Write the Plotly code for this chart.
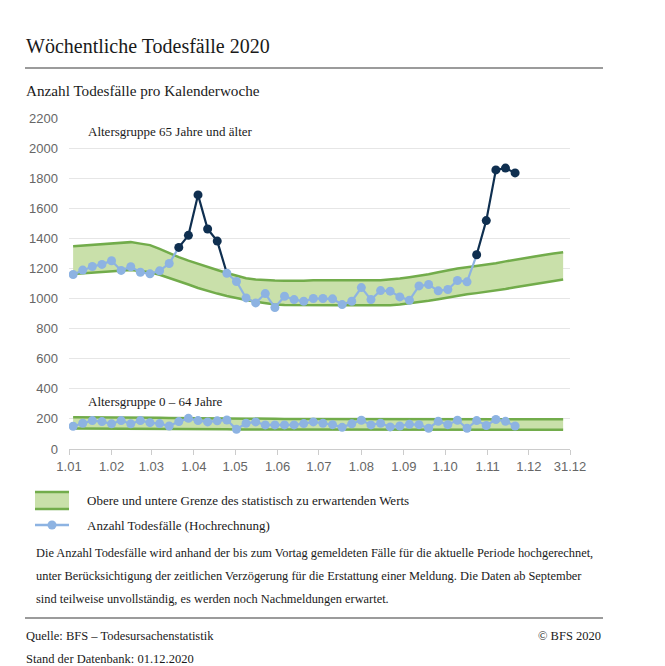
import plotly.graph_objects as go
import datetime as dt

# ---------------- data ----------------
week_numbers = list(range(1, 53))
first_week_date = "2020-01-04"

deaths_65plus = [1160, 1189, 1213, 1227, 1251, 1187, 1211, 1175, 1164, 1184,
                 1233, 1340, 1420, 1689, 1462, 1382, 1168, 1113, 1004, 971,
                 1033, 940, 1015, 993, 982, 1000, 1000, 998, 960, 982,
                 1073, 993, 1053, 1049, 1011, 989, 1084, 1093, 1051, 1060,
                 1120, 1111, 1291, 1518, 1855, 1867, 1835]
above_band_weeks_65plus = [12, 13, 14, 15, 16, 43, 44, 45, 46, 47]

upper_65plus = [1347, 1352, 1357, 1362, 1367, 1372, 1375, 1365, 1355, 1330,
                1300, 1275, 1252, 1230, 1210, 1190, 1170, 1150, 1135, 1127,
                1122, 1120, 1118, 1117, 1119, 1121, 1122, 1122, 1122, 1122,
                1122, 1122, 1122, 1125, 1133, 1142, 1151, 1162, 1175, 1188,
                1200, 1208, 1216, 1223, 1235, 1247, 1259, 1270, 1280, 1290,
                1299, 1307]
lower_65plus = [1163, 1168, 1173, 1178, 1183, 1188, 1190, 1183, 1175, 1158,
                1138, 1117, 1093, 1070, 1050, 1033, 1017, 1002, 990, 978,
                967, 960, 957, 956, 956, 956, 956, 956, 956, 956,
                956, 956, 955, 955, 960, 967, 975, 985, 996, 1008,
                1019, 1028, 1036, 1044, 1054, 1064, 1075, 1085, 1095, 1105,
                1116, 1127]

deaths_0_64 = [151, 171, 189, 182, 167, 189, 167, 189, 175, 169,
               153, 182, 204, 189, 180, 187, 193, 131, 171, 180,
               160, 160, 160, 160, 169, 180, 171, 162, 144, 167,
               191, 160, 171, 147, 153, 164, 162, 138, 184, 162,
               191, 138, 189, 156, 196, 184, 153]
upper_0_64 = [211, 211, 210, 210, 209, 209, 208, 208, 207, 207,
              206, 206, 205, 205, 204, 204, 203, 203, 202, 202,
              201, 201, 200, 200, 200, 199, 199, 199, 198, 198,
              198, 197, 197, 197, 197, 196, 196, 196, 196, 196,
              196, 196, 196, 196, 196, 196, 197, 197, 197, 197,
              197, 197]
lower_0_64 = [136, 136, 135, 135, 135, 134, 134, 134, 133, 133,
              133, 132, 132, 132, 131, 131, 131, 130, 130, 130,
              130, 129, 129, 129, 129, 128, 128, 128, 128, 128,
              128, 127, 127, 127, 127, 127, 127, 127, 127, 127,
              127, 127, 127, 127, 128, 128, 128, 128, 128, 128,
              128, 128]

x_tick_dates = ["2020-01-01", "2020-02-01", "2020-03-01", "2020-04-01",
                "2020-05-01", "2020-06-01", "2020-07-01", "2020-08-01",
                "2020-09-01", "2020-10-01", "2020-11-01", "2020-12-01",
                "2020-12-31"]
x_tick_labels = ["1.01", "1.02", "1.03", "1.04", "1.05", "1.06", "1.07",
                 "1.08", "1.09", "1.10", "1.11", "1.12", "31.12"]
y_tick_values = list(range(0, 2201, 200))

title_text = "Wöchentliche Todesfälle 2020"
subtitle_text = "Anzahl Todesfälle pro Kalenderwoche"
group_labels = ["Altersgruppe 65 Jahre und älter", "Altersgruppe 0 – 64 Jahre"]
legend_labels = ["Obere und untere Grenze des statistisch zu erwartenden Werts",
                 "Anzahl Todesfälle (Hochrechnung)"]
note_lines = [
    "Die Anzahl Todesfälle wird anhand der bis zum Vortag gemeldeten Fälle für die aktuelle Periode hochgerechnet,",
    "unter Berücksichtigung der zeitlichen Verzögerung für die Erstattung einer Meldung. Die Daten ab September",
    "sind teilweise unvollständig, es werden noch Nachmeldungen erwartet.",
]
source_text = "Quelle: BFS – Todesursachenstatistik"
copyright_text = "© BFS 2020"
stand_text = "Stand der Datenbank: 01.12.2020"

# ---------------- styling ----------------
OFF = 8                      # page body margin of the browser
W, H = 665 - OFF, 666 - OFF
L, R, T, B = 69, 570, 118, 449   # plot area in window pixels
PW, PH = R - L, B - T
SERIF = "Liberation Serif, Times New Roman, serif"
SANS = "Liberation Sans, Arial, sans-serif"
GREEN_LINE = "#72ac4b"
GREEN_FILL = "#c9e0aa"
LIGHT_BLUE = "#8db3e2"
DARK_BLUE = "#0f2f50"
TEXT = "#1a1a1a"


def px(x):
    return (x - L) / PW


def py(y):
    return (B - y) / PH


start = dt.date.fromisoformat(first_week_date)
dates = [(start + dt.timedelta(days=7 * (w - 1))).isoformat() for w in week_numbers]

fig = go.Figure()

# bands
for lower, upper in [(lower_65plus, upper_65plus), (lower_0_64, upper_0_64)]:
    fig.add_trace(go.Scatter(x=dates[:len(lower)], y=lower, mode="lines",
                             line=dict(color=GREEN_LINE, width=2.5),
                             hoverinfo="skip", showlegend=False))
    fig.add_trace(go.Scatter(x=dates[:len(upper)], y=upper, mode="lines",
                             line=dict(color=GREEN_LINE, width=2.5),
                             fill="tonexty", fillcolor=GREEN_FILL,
                             hoverinfo="skip", showlegend=False))


def split_series(values, above_weeks):
    n = len(values)
    exc = [(i + 1) in above_weeks for i in range(n)]
    light_line, dark_line, light_pts, dark_pts = [], [], [], []
    for i, v in enumerate(values):
        prev_exc = i > 0 and exc[i - 1]
        light_line.append(v if (not exc[i] or (i > 0 and not exc[i - 1])) else None)
        dark_line.append(v if (exc[i] or prev_exc) else None)
        light_pts.append(None if exc[i] else v)
        dark_pts.append(v if exc[i] else None)
    return light_line, dark_line, light_pts, dark_pts


for values, above in [(deaths_0_64, []), (deaths_65plus, above_band_weeks_65plus)]:
    ll, dl, lp, dp = split_series(values, above)
    xs = dates[:len(values)]
    fig.add_trace(go.Scatter(x=xs, y=ll, mode="lines", connectgaps=False,
                             line=dict(color=LIGHT_BLUE, width=2.2), showlegend=False))
    if any(v is not None for v in dp):
        fig.add_trace(go.Scatter(x=xs, y=dl, mode="lines", connectgaps=False,
                                 line=dict(color=DARK_BLUE, width=2.2), showlegend=False))
    fig.add_trace(go.Scatter(x=xs, y=lp, mode="markers",
                             marker=dict(color=LIGHT_BLUE, size=9), showlegend=False))
    if any(v is not None for v in dp):
        fig.add_trace(go.Scatter(x=xs, y=dp, mode="markers",
                                 marker=dict(color=DARK_BLUE, size=9), showlegend=False))

shapes = [
    dict(type="line", xref="paper", yref="paper", x0=px(25), x1=px(603),
         y0=py(68), y1=py(68), line=dict(color="#7a7a7a", width=1.5)),
    dict(type="line", xref="paper", yref="paper", x0=px(25), x1=px(603),
         y0=py(618), y1=py(618), line=dict(color="#7a7a7a", width=1.5)),
    # legend band swatch
    dict(type="rect", xref="paper", yref="paper", x0=px(35), x1=px(69),
         y0=py(509), y1=py(492), fillcolor=GREEN_FILL, line=dict(width=0)),
    dict(type="line", xref="paper", yref="paper", x0=px(35), x1=px(69),
         y0=py(492), y1=py(492), line=dict(color=GREEN_LINE, width=2.5)),
    dict(type="line", xref="paper", yref="paper", x0=px(35), x1=px(69),
         y0=py(509), y1=py(509), line=dict(color=GREEN_LINE, width=2.5)),
    # legend line + marker
    dict(type="line", xref="paper", yref="paper", x0=px(35), x1=px(69),
         y0=py(525), y1=py(525), line=dict(color=LIGHT_BLUE, width=2.5)),
    dict(type="circle", xref="paper", yref="paper", x0=px(47.5), x1=px(56.5),
         y0=py(529.5), y1=py(520.5), fillcolor=LIGHT_BLUE, line=dict(width=0)),
]


def note(text, x, y, size, anchor="left", color=TEXT, font=SERIF):
    return dict(text=text, xref="paper", yref="paper", x=px(x), y=py(y),
                xanchor=anchor, yanchor="middle", showarrow=False,
                font=dict(family=font, size=size, color=color))


annotations = [
    note(title_text, 24, 46, 20),
    note(subtitle_text, 24, 91, 15.2),
    note(group_labels[0], 86, 131, 13),
    note(group_labels[1], 86, 401, 13),
    note(legend_labels[0], 85, 500, 13),
    note(legend_labels[1], 85, 525, 13),
    note(note_lines[0], 34, 553, 12.4),
    note(note_lines[1], 34, 576, 12.4),
    note(note_lines[2], 34, 599, 12.4),
    note(source_text, 24, 636, 12.5),
    note(copyright_text, 603, 636, 12.5, anchor="right"),
    note(stand_text, 24, 659, 12.5),
]

fig.update_layout(
    width=W, height=H,
    margin=dict(l=L - OFF, r=W - (R - OFF), t=T - OFF, b=H - (B - OFF), pad=0),
    paper_bgcolor="white", plot_bgcolor="white",
    showlegend=False,
    shapes=shapes, annotations=annotations,
    xaxis=dict(type="date", range=["2020-01-01", "2020-12-31"],
               tickvals=x_tick_dates, ticktext=x_tick_labels,
               showgrid=False, zeroline=False,
               showline=True, linecolor="#cccccc", linewidth=1,
               ticks="outside", ticklen=5, tickcolor="#cccccc",
               tickfont=dict(family=SANS, size=13, color="#666666")),
    yaxis=dict(range=[0, 2200], tickvals=y_tick_values,
               showgrid=True, gridcolor="#e6e6e6", gridwidth=1,
               zeroline=False, showline=False, ticks="",
               ticklabelstandoff=10,
               tickfont=dict(family=SANS, size=13, color="#666666")),
)

fig.write_html("out.html")
